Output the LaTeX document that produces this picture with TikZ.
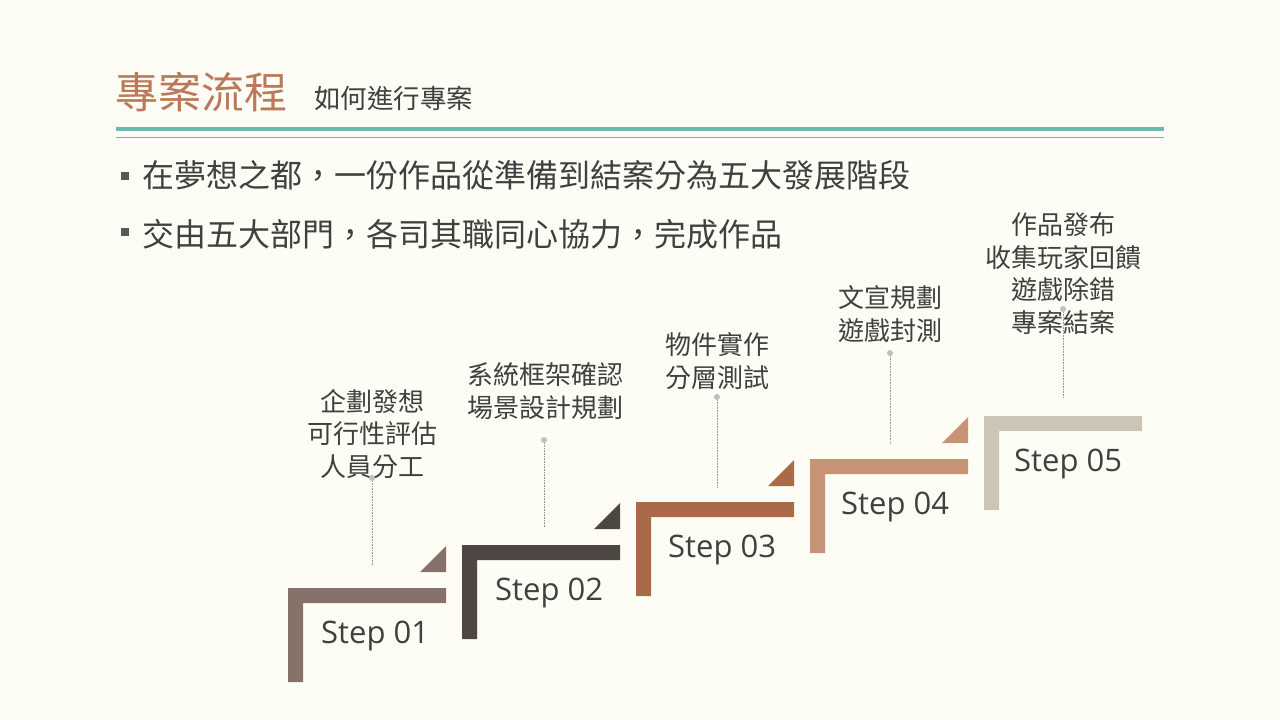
\documentclass[tikz,border=0pt]{standalone}
\usepackage{fontspec}
\newfontfamily\cjk{Noto Sans CJK TC}
\newfontfamily\stepfont{Open Sans}
\definecolor{bgcream}{RGB}{254,253,245}
\definecolor{titlebrown}{RGB}{186,121,91}
\definecolor{rule}{RGB}{112,184,176}
\definecolor{ink}{RGB}{64,64,64}
\definecolor{stepa}{RGB}{134,114,104}
\definecolor{stepb}{RGB}{77,70,66}
\definecolor{stepc}{RGB}{168,106,72}
\definecolor{stepd}{RGB}{200,146,116}
\definecolor{stepe}{RGB}{205,196,184}
\tikzset{
  steptext/.style={anchor=west,inner sep=0pt,text=ink,font=\stepfont\fontsize{31}{36}\selectfont},
  tasktext/.style={align=center,inner sep=0pt,text=ink,font=\cjk\fontsize{26}{32.5}\selectfont},
  pin/.style={circle,fill=black!25,inner sep=0pt,minimum size=6pt},
  leader/.style={densely dotted,black!40,line width=0.6pt},
  bullet/.style={rectangle,fill=black!65,inner sep=0pt,minimum size=8pt},
  bullettext/.style={anchor=west,inner sep=0pt,text=ink,font=\cjk\fontsize{32}{36}\selectfont}
}
\begin{document}
\begin{tikzpicture}[x=1pt,y=-1pt]
  \useasboundingbox (0,0) rectangle (1280,720);
  \fill [bgcream] (0,0) rectangle (1280,720);
  \node (title) [anchor=west,inner sep=0pt,text=titlebrown,font=\cjk\fontsize{43}{48}\selectfont] at (115,92) {專案流程};
  \node (subtitle) [anchor=west,inner sep=0pt,text=ink,font=\cjk\fontsize{26.5}{30}\selectfont] at (314,98.5) {如何進行專案};
  \fill [rule] (116,126.5) rectangle (1164,130.5);
  \draw [rule,line width=1pt] (116,137) -- (1164,137);
  \node (b1) [bullet] at (124.5,175.5) {};
  \node (t1) [bullettext] at (142,175.5) {在夢想之都，一份作品從準備到結案分為五大發展階段};
  \node (b2) [bullet] at (124.5,232) {};
  \node (t2) [bullettext] at (142,234) {交由五大部門，各司其職同心協力，完成作品};
  \fill [stepa] (288,588) -- (446,588) -- (446,603) -- (303,603) -- (303,682) -- (288,682) -- cycle;
  \fill [stepa] (420,572) -- (446,572) -- (446,546) -- cycle;
  \fill [stepb] (462,545) -- (620,545) -- (620,560) -- (477,560) -- (477,639) -- (462,639) -- cycle;
  \fill [stepb] (594,529) -- (620,529) -- (620,503) -- cycle;
  \fill [stepc] (636,502) -- (794,502) -- (794,517) -- (651,517) -- (651,596) -- (636,596) -- cycle;
  \fill [stepc] (768,486) -- (794,486) -- (794,460) -- cycle;
  \fill [stepd] (810,459) -- (968,459) -- (968,474) -- (825,474) -- (825,553) -- (810,553) -- cycle;
  \fill [stepd] (942,443) -- (968,443) -- (968,417) -- cycle;
  \fill [stepe] (984,416) -- (1142,416) -- (1142,431) -- (999,431) -- (999,510) -- (984,510) -- cycle;
  \node (s1) [steptext] at (321,636) {Step 01};
  \node (s2) [steptext] at (495,593) {Step 02};
  \node (s3) [steptext] at (668,550) {Step 03};
  \node (s4) [steptext] at (841,507) {Step 04};
  \node (s5) [steptext] at (1014,464) {Step 05};
  \node (l1) [tasktext] at (372,434) {企劃發想\\可行性評估\\人員分工};
  \node (l2) [tasktext] at (545,391) {系統框架確認\\場景設計規劃};
  \node (l3) [tasktext] at (717,361) {物件實作\\分層測試};
  \node (l4) [tasktext] at (890,314) {文宣規劃\\遊戲封測};
  \node (l5) [tasktext] at (1063,273.5) {作品發布\\收集玩家回饋\\遊戲除錯\\專案結案};
  \node (d1) [pin] at (372,478) {};
  \node (d2) [pin] at (544,440) {};
  \node (d3) [pin] at (717,397) {};
  \node (d4) [pin] at (890,353) {};
  \node (d5) [pin] at (1063,309) {};
  \coordinate (e1) at (372,566);
  \coordinate (e2) at (544,528);
  \coordinate (e3) at (717,487);
  \coordinate (e4) at (890,443);
  \coordinate (e5) at (1063,398);
  \draw [leader] (d1) -- (e1);
  \draw [leader] (d2) -- (e2);
  \draw [leader] (d3) -- (e3);
  \draw [leader] (d4) -- (e4);
  \draw [leader] (d5) -- (e5);
\end{tikzpicture}
\end{document}
